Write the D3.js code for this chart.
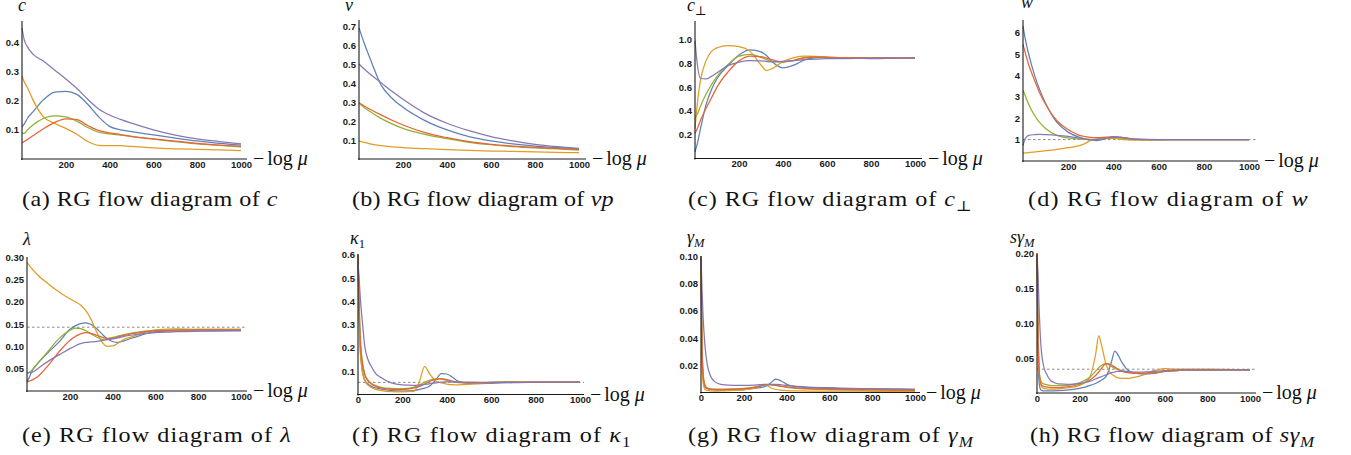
<!DOCTYPE html>
<html>
<head>
<meta charset="utf-8">
<script src="https://cdn.jsdelivr.net/npm/d3@7"></script>
<style>
  html, body { margin: 0; padding: 0; background: #fff; }
  svg { display: block; }
</style>
</head>
<body>
<svg id="fig" width="1351" height="455"></svg>
<script>
// Run colours: blue, orange, green, red, purple
const runColors = ["#5e81b5", "#e19c24", "#8fb032", "#eb6235", "#8778b3"];

const xTicksPlain = [200, 400, 600, 800, 1000];
const xTicksZero = [0, 200, 400, 600, 800, 1000];

// (a) c
const muC = [0, 10, 25, 50, 100, 150, 200, 250, 300, 350, 400, 450, 500, 600, 700, 800, 900, 1000];
const cRuns = [
  [0.110, 0.120, 0.140, 0.162, 0.205, 0.230, 0.232, 0.222, 0.188, 0.145, 0.112, 0.100, 0.094, 0.083, 0.072, 0.062, 0.054, 0.048],
  [0.285, 0.265, 0.245, 0.203, 0.143, 0.122, 0.105, 0.085, 0.060, 0.047, 0.046, 0.046, 0.043, 0.038, 0.035, 0.033, 0.031, 0.029],
  [0.090, 0.088, 0.100, 0.117, 0.140, 0.148, 0.145, 0.130, 0.108, 0.092, 0.086, 0.082, 0.077, 0.068, 0.060, 0.052, 0.047, 0.042],
  [0.055, 0.060, 0.067, 0.080, 0.105, 0.126, 0.138, 0.135, 0.115, 0.098, 0.090, 0.084, 0.078, 0.069, 0.061, 0.054, 0.048, 0.043],
  [0.450, 0.410, 0.385, 0.360, 0.335, 0.305, 0.275, 0.243, 0.205, 0.172, 0.151, 0.136, 0.123, 0.100, 0.082, 0.069, 0.060, 0.052]
];
const cTicks = [0.1, 0.2, 0.3, 0.4];

// (b) v
const muV = [0, 25, 50, 100, 150, 200, 300, 400, 500, 600, 700, 800, 900, 1000];
const vRuns = [
  [0.690, 0.605, 0.530, 0.390, 0.320, 0.272, 0.202, 0.153, 0.118, 0.095, 0.079, 0.068, 0.060, 0.053],
  [0.095, 0.087, 0.080, 0.070, 0.064, 0.060, 0.054, 0.049, 0.045, 0.042, 0.040, 0.037, 0.035, 0.033],
  [0.293, 0.270, 0.250, 0.214, 0.185, 0.161, 0.130, 0.107, 0.088, 0.075, 0.065, 0.058, 0.053, 0.047],
  [0.296, 0.278, 0.262, 0.232, 0.204, 0.179, 0.139, 0.112, 0.091, 0.077, 0.068, 0.061, 0.056, 0.051],
  [0.500, 0.472, 0.447, 0.402, 0.356, 0.314, 0.240, 0.188, 0.149, 0.118, 0.095, 0.077, 0.065, 0.056]
];
const vTicks = [0.1, 0.2, 0.3, 0.4, 0.5, 0.6, 0.7];

// (c) c_perp
const muCp = [0, 10, 25, 50, 75, 100, 150, 200, 250, 300, 325, 350, 400, 450, 500, 550, 600, 700, 800, 900, 1000];
const cpRuns = [
  [0.056, 0.120, 0.250, 0.450, 0.580, 0.670, 0.780, 0.870, 0.912, 0.895, 0.865, 0.815, 0.762, 0.785, 0.830, 0.848, 0.850, 0.845, 0.840, 0.842, 0.845],
  [0.250, 0.450, 0.660, 0.820, 0.900, 0.930, 0.948, 0.940, 0.900, 0.785, 0.740, 0.755, 0.815, 0.848, 0.860, 0.857, 0.850, 0.840, 0.848, 0.846, 0.845],
  [0.336, 0.370, 0.440, 0.540, 0.620, 0.690, 0.790, 0.860, 0.875, 0.850, 0.830, 0.815, 0.810, 0.825, 0.850, 0.855, 0.852, 0.845, 0.845, 0.845, 0.845],
  [0.210, 0.250, 0.320, 0.420, 0.510, 0.600, 0.727, 0.820, 0.860, 0.855, 0.843, 0.830, 0.812, 0.825, 0.845, 0.852, 0.850, 0.845, 0.845, 0.845, 0.845],
  [0.990, 0.800, 0.672, 0.668, 0.690, 0.720, 0.780, 0.810, 0.822, 0.820, 0.815, 0.812, 0.815, 0.822, 0.830, 0.835, 0.838, 0.840, 0.842, 0.843, 0.845]
];
const cpTicks = [0.2, 0.4, 0.6, 0.8, 1.0];

// (d) w
const muW = [0, 10, 25, 50, 75, 100, 150, 200, 250, 275, 300, 325, 350, 400, 450, 500, 600, 700, 800, 1000];
const wRuns = [
  [6.30, 5.70, 5.00, 4.05, 3.30, 2.70, 1.80, 1.35, 1.10, 1.03, 0.97, 0.95, 1.00, 1.14, 1.08, 1.01, 0.99, 1.00, 1.00, 1.00],
  [0.37, 0.38, 0.39, 0.42, 0.45, 0.48, 0.54, 0.62, 0.72, 0.82, 0.96, 1.02, 1.05, 1.06, 1.00, 0.97, 0.99, 1.00, 1.00, 1.00],
  [3.30, 3.05, 2.65, 2.15, 1.78, 1.52, 1.20, 1.08, 1.02, 1.01, 1.01, 1.02, 1.05, 1.10, 1.05, 1.00, 1.00, 1.00, 1.00, 1.00],
  [5.45, 5.05, 4.50, 3.80, 3.15, 2.65, 1.88, 1.47, 1.20, 1.14, 1.10, 1.09, 1.10, 1.13, 1.08, 1.02, 1.00, 1.00, 1.00, 1.00],
  [0.72, 1.05, 1.20, 1.23, 1.24, 1.23, 1.20, 1.15, 1.07, 1.03, 1.00, 1.00, 1.02, 1.12, 1.08, 1.01, 1.00, 1.00, 1.00, 1.00]
];
const wTicks = [1, 2, 3, 4, 5, 6];
const wFixed = 1;

// (e) lambda
const muL = [0, 10, 25, 50, 100, 150, 200, 225, 250, 275, 300, 325, 350, 375, 400, 425, 450, 500, 600, 700, 800, 1000];
const lRuns = [
  [0.020, 0.030, 0.046, 0.062, 0.087, 0.110, 0.138, 0.146, 0.151, 0.153, 0.149, 0.140, 0.128, 0.117, 0.111, 0.109, 0.112, 0.120, 0.133, 0.135, 0.135, 0.136],
  [0.288, 0.282, 0.273, 0.260, 0.240, 0.222, 0.207, 0.200, 0.193, 0.180, 0.160, 0.133, 0.110, 0.100, 0.101, 0.107, 0.115, 0.123, 0.137, 0.139, 0.138, 0.138],
  [0.040, 0.042, 0.048, 0.062, 0.090, 0.118, 0.136, 0.141, 0.140, 0.135, 0.128, 0.121, 0.116, 0.117, 0.120, 0.123, 0.126, 0.131, 0.136, 0.137, 0.138, 0.138],
  [0.020, 0.022, 0.025, 0.032, 0.058, 0.088, 0.113, 0.122, 0.128, 0.131, 0.129, 0.125, 0.121, 0.118, 0.118, 0.121, 0.124, 0.129, 0.135, 0.136, 0.137, 0.137],
  [0.040, 0.041, 0.042, 0.050, 0.067, 0.081, 0.095, 0.101, 0.106, 0.109, 0.110, 0.111, 0.113, 0.115, 0.117, 0.119, 0.122, 0.126, 0.131, 0.133, 0.134, 0.135]
];
const lTicks = [0.05, 0.10, 0.15, 0.20, 0.25, 0.30];
const lFixed = 0.143;

// (f) kappa_1
const muK = [0, 5, 10, 15, 20, 30, 45, 60, 80, 100, 150, 200, 250, 275, 300, 325, 350, 375, 400, 425, 450, 500, 550, 600, 700, 800, 1000];
const kRuns = [
  [0.60, 0.35, 0.20, 0.14, 0.100, 0.065, 0.045, 0.035, 0.028, 0.024, 0.017, 0.015, 0.017, 0.021, 0.027, 0.038, 0.062, 0.090, 0.088, 0.074, 0.058, 0.048, 0.047, 0.048, 0.051, 0.052, 0.053],
  [0.60, 0.33, 0.19, 0.13, 0.095, 0.060, 0.040, 0.030, 0.022, 0.018, 0.012, 0.011, 0.013, 0.050, 0.120, 0.085, 0.058, 0.050, 0.045, 0.042, 0.041, 0.043, 0.048, 0.053, 0.055, 0.053, 0.053],
  [0.60, 0.40, 0.25, 0.18, 0.140, 0.090, 0.062, 0.048, 0.038, 0.032, 0.026, 0.025, 0.031, 0.040, 0.053, 0.062, 0.067, 0.066, 0.060, 0.055, 0.051, 0.049, 0.050, 0.051, 0.053, 0.053, 0.053],
  [0.60, 0.38, 0.24, 0.17, 0.130, 0.085, 0.058, 0.045, 0.035, 0.029, 0.022, 0.021, 0.027, 0.034, 0.045, 0.057, 0.065, 0.068, 0.064, 0.058, 0.053, 0.050, 0.050, 0.051, 0.053, 0.053, 0.053],
  [0.57, 0.50, 0.42, 0.36, 0.310, 0.210, 0.150, 0.120, 0.090, 0.075, 0.050, 0.041, 0.039, 0.040, 0.043, 0.047, 0.050, 0.053, 0.054, 0.054, 0.054, 0.053, 0.052, 0.052, 0.052, 0.053, 0.053]
];
const kTicks = [0.1, 0.2, 0.3, 0.4, 0.5, 0.6];
const kFixed = 0.052;

// (g) gamma_M
const muG = [0, 5, 10, 15, 20, 30, 45, 60, 80, 100, 150, 200, 250, 275, 300, 325, 350, 375, 400, 450, 500, 600, 700, 800, 1000];
const gRuns = [
  [0.100, 0.030, 0.012, 0.0060, 0.0040, 0.0028, 0.0022, 0.0020, 0.0018, 0.0018, 0.0019, 0.0022, 0.0030, 0.0036, 0.0045, 0.0070, 0.0098, 0.0085, 0.0060, 0.0042, 0.0036, 0.0030, 0.0027, 0.0025, 0.0022],
  [0.100, 0.020, 0.007, 0.0035, 0.0022, 0.0015, 0.0012, 0.0011, 0.0011, 0.0012, 0.0015, 0.0020, 0.0032, 0.0045, 0.0055, 0.0035, 0.0022, 0.0017, 0.0014, 0.0012, 0.0011, 0.0010, 0.0010, 0.0009, 0.0008],
  [0.100, 0.035, 0.014, 0.0075, 0.0050, 0.0033, 0.0027, 0.0025, 0.0024, 0.0024, 0.0026, 0.0030, 0.0040, 0.0048, 0.0056, 0.0056, 0.0052, 0.0045, 0.0038, 0.0030, 0.0026, 0.0022, 0.0020, 0.0019, 0.0017],
  [0.100, 0.032, 0.013, 0.0070, 0.0045, 0.0030, 0.0025, 0.0023, 0.0022, 0.0022, 0.0024, 0.0028, 0.0038, 0.0047, 0.0058, 0.0058, 0.0053, 0.0047, 0.0041, 0.0033, 0.0028, 0.0024, 0.0021, 0.0019, 0.0016],
  [0.100, 0.075, 0.055, 0.0420, 0.0320, 0.0200, 0.0120, 0.0085, 0.0066, 0.0058, 0.0052, 0.0052, 0.0055, 0.0058, 0.0060, 0.0060, 0.0060, 0.0057, 0.0052, 0.0045, 0.0040, 0.0035, 0.0030, 0.0028, 0.0025]
];
const gTicks = [0.02, 0.04, 0.06, 0.08, 0.10];

// (h) s*gamma_M
const muS = [0, 5, 10, 15, 20, 30, 45, 60, 80, 100, 150, 200, 225, 250, 275, 290, 300, 325, 350, 365, 375, 400, 425, 450, 500, 550, 600, 650, 700, 800, 1000];
const sRuns = [
  [0.200, 0.060, 0.015, 0.0060, 0.0040, 0.0032, 0.0030, 0.0030, 0.0031, 0.0033, 0.0045, 0.0067, 0.0085, 0.0110, 0.0135, 0.0160, 0.0180, 0.0240, 0.0450, 0.0600, 0.0570, 0.0430, 0.0330, 0.0290, 0.0270, 0.0280, 0.0310, 0.0320, 0.0330, 0.0330, 0.0330],
  [0.200, 0.090, 0.035, 0.0160, 0.0100, 0.0067, 0.0060, 0.0057, 0.0057, 0.0060, 0.0075, 0.0110, 0.0150, 0.0240, 0.0550, 0.0820, 0.0720, 0.0400, 0.0270, 0.0240, 0.0220, 0.0210, 0.0210, 0.0220, 0.0260, 0.0320, 0.0350, 0.0340, 0.0340, 0.0340, 0.0330],
  [0.200, 0.085, 0.035, 0.0200, 0.0160, 0.0130, 0.0120, 0.0110, 0.0105, 0.0105, 0.0114, 0.0145, 0.0180, 0.0230, 0.0310, 0.0360, 0.0390, 0.0420, 0.0380, 0.0350, 0.0340, 0.0320, 0.0300, 0.0290, 0.0280, 0.0290, 0.0310, 0.0320, 0.0330, 0.0330, 0.0330],
  [0.200, 0.080, 0.030, 0.0160, 0.0120, 0.0095, 0.0088, 0.0080, 0.0076, 0.0078, 0.0090, 0.0125, 0.0150, 0.0190, 0.0250, 0.0300, 0.0340, 0.0420, 0.0400, 0.0370, 0.0350, 0.0310, 0.0290, 0.0280, 0.0280, 0.0290, 0.0310, 0.0320, 0.0330, 0.0330, 0.0330],
  [0.195, 0.170, 0.120, 0.0850, 0.0620, 0.0400, 0.0270, 0.0190, 0.0150, 0.0130, 0.0125, 0.0138, 0.0150, 0.0170, 0.0200, 0.0220, 0.0230, 0.0260, 0.0290, 0.0300, 0.0310, 0.0310, 0.0310, 0.0300, 0.0300, 0.0310, 0.0320, 0.0330, 0.0330, 0.0330, 0.0330]
];
const sTicks = [0.05, 0.10, 0.15, 0.20];
const sFixed = 0.034;

// Panel layout (pixel frames) and labels
const panels = [
  { mu: muC, runs: cRuns, yTicks: cTicks, fmt: ".1f", xTicks: xTicksPlain, ref: null,
    x0: 22, x1: 241, xEnd: 247, y0: 159, yTop: 21, yMax: 0.474,
    varParts: [{ t: "c", i: 1 }], varX: 18, varY: 11,
    capParts: [{ t: "(a) RG flow diagram of " }, { t: "c", i: 1 }], capX: 22, capW: 256, capY: 206 },
  { mu: muV, runs: vRuns, yTicks: vTicks, fmt: ".1f", xTicks: xTicksPlain, ref: null,
    x0: 359, x1: 579, xEnd: 586, y0: 159, yTop: 20, yMax: 0.7316,
    varParts: [{ t: "v", i: 1 }], varX: 345, varY: 11,
    capParts: [{ t: "(b) RG flow diagram of " }, { t: "vp", i: 1 }], capX: 352, capW: 262, capY: 206 },
  { mu: muCp, runs: cpRuns, yTicks: cpTicks, fmt: ".1f", xTicks: xTicksPlain, ref: null,
    x0: 695, x1: 915, xEnd: 922, y0: 158.5, yTop: 21, yMax: 1.155,
    varParts: [{ t: "c", i: 1 }, { t: "⊥", sub: 1 }], varX: 687, varY: 11,
    capParts: [{ t: "(c) RG flow diagram of " }, { t: "c", i: 1 }, { t: "⊥", sub: 1 }], capX: 688, capW: 285, capY: 206 },
  { mu: muW, runs: wRuns, yTicks: wTicks, fmt: "d", xTicks: xTicksPlain, ref: wFixed,
    x0: 1023, x1: 1249, xEnd: 1258, y0: 161, yTop: 20, yMax: 6.59,
    varParts: [{ t: "w", i: 1 }], varX: 1021, varY: 8,
    capParts: [{ t: "(d) RG flow diagram of " }, { t: "w", i: 1 }], capX: 1028, capW: 281, capY: 206 },
  { mu: muL, runs: lRuns, yTicks: lTicks, fmt: ".2f", xTicks: xTicksPlain, ref: lFixed,
    x0: 27, x1: 241, xEnd: 247, y0: 391, yTop: 257, yMax: 0.3004,
    varParts: [{ t: "λ", i: 1 }], varX: 23, varY: 245,
    capParts: [{ t: "(e) RG flow diagram of " }, { t: "λ", i: 1 }], capX: 22, capW: 270, capY: 442 },
  { mu: muK, runs: kRuns, yTicks: kTicks, fmt: ".1f", xTicks: xTicksZero, ref: kFixed,
    x0: 358, x1: 580, xEnd: 584, y0: 394.5, yTop: 254, yMax: 0.603,
    varParts: [{ t: "κ", i: 1 }, { t: "1", sub: 1 }], varX: 350, varY: 244,
    capParts: [{ t: "(f) RG flow diagram of " }, { t: "κ", i: 1 }, { t: "1", sub: 1 }], capX: 352, capW: 280, capY: 442 },
  { mu: muG, runs: gRuns, yTicks: gTicks, fmt: ".2f", xTicks: xTicksZero, ref: null,
    x0: 701, x1: 915, xEnd: 920, y0: 392.5, yTop: 256, yMax: 0.1004,
    varParts: [{ t: "γ", i: 1 }, { t: "M", i: 1, sub: 1 }], varX: 687, varY: 243,
    capParts: [{ t: "(g) RG flow diagram of " }, { t: "γ", i: 1 }, { t: "M", i: 1, sub: 1 }], capX: 688, capW: 286, capY: 442 },
  { mu: muS, runs: sRuns, yTicks: sTicks, fmt: ".2f", xTicks: xTicksZero, ref: sFixed,
    x0: 1037, x1: 1250, xEnd: 1256, y0: 393, yTop: 254, yMax: 0.1986,
    varParts: [{ t: "sγ", i: 1 }, { t: "M", i: 1, sub: 1 }], varX: 1010, varY: 243,
    capParts: [{ t: "(h) RG flow diagram of " }, { t: "sγ", i: 1 }, { t: "M", i: 1, sub: 1 }], capX: 1030, capW: 285, capY: 442 }
];

const serif = "'Liberation Serif', 'DejaVu Serif', serif";
const svg = d3.select("#fig");

function mathText(sel, parts, size) {
  parts.forEach(pt => {
    const ts = sel.append("tspan").text(pt.t);
    if (pt.i) ts.attr("font-style", "italic");
    if (pt.sub) ts.attr("font-size", size * 0.7).attr("dy", size * 0.22);
  });
  return sel;
}

panels.forEach(p => {
  const g = svg.append("g");
  const x = d3.scaleLinear().domain([0, 1000]).range([p.x0, p.x1]);
  const y = d3.scaleLinear().domain([0, p.yMax]).range([p.y0, p.yTop]);

  // fixed-point reference
  if (p.ref !== null) {
    g.append("line")
      .attr("x1", p.x0).attr("x2", p.xEnd)
      .attr("y1", y(p.ref)).attr("y2", y(p.ref))
      .attr("stroke", "#8a8a8a").attr("stroke-width", 1)
      .attr("stroke-dasharray", "2.5,2.5");
  }

  // flow curves
  const line = d3.line()
    .x((d, i) => x(p.mu[i]))
    .y(d => y(d))
    .curve(d3.curveMonotoneX);
  p.runs.forEach((run, k) => {
    g.append("path")
      .attr("d", line(run))
      .attr("fill", "none")
      .attr("stroke", runColors[k])
      .attr("stroke-width", 1.25)
      .attr("stroke-linejoin", "round");
  });

  // axes
  const xAxis = g.append("g").attr("transform", `translate(0,${p.y0})`)
    .call(d3.axisBottom(x).tickValues(p.xTicks).tickSize(0).tickPadding(2).tickFormat(d3.format("d")));
  const yAxis = g.append("g").attr("transform", `translate(${p.x0},0)`)
    .call(d3.axisLeft(y).tickValues(p.yTicks).tickSize(0).tickPadding(3).tickFormat(d3.format(p.fmt)));
  [xAxis, yAxis].forEach(a => {
    a.select(".domain").remove();
    a.selectAll("text")
      .attr("font-family", "'Liberation Sans', Arial, sans-serif")
      .attr("font-weight", "bold")
      .attr("font-size", 9.5)
      .attr("fill", "#1a1a1a");
  });
  g.append("line").attr("x1", p.x0 - 1).attr("x2", p.xEnd)
    .attr("y1", p.y0).attr("y2", p.y0)
    .attr("stroke", "#1a1a1a").attr("stroke-width", 1.1);
  g.append("line").attr("x1", p.x0).attr("x2", p.x0)
    .attr("y1", p.y0 + 1).attr("y2", p.yTop)
    .attr("stroke", "#1a1a1a").attr("stroke-width", 1.1);

  // variable name above the vertical axis
  mathText(g.append("text").attr("font-family", serif).attr("fill", "#111")
    .attr("x", p.varX).attr("y", p.varY).attr("font-size", 18), p.varParts, 18);

  // horizontal axis label: −log μ
  const xl = g.append("text").attr("font-family", serif).attr("fill", "#111")
    .attr("x", p.xEnd + 6).attr("y", p.y0 + 6).attr("font-size", 20);
  xl.append("tspan").text("−");
  xl.append("tspan").attr("dx", 3).text("log ");
  xl.append("tspan").attr("font-style", "italic").text("μ");

  // caption, widened to its column width
  const cap = mathText(g.append("text").attr("font-family", serif).attr("fill", "#111")
    .attr("font-size", 21), p.capParts, 21);
  const node = cap.node();
  const w = node.getComputedTextLength();
  const n = node.textContent.length;
  const s = Math.min(1.15, p.capW / w);
  const ls = Math.max(0, (p.capW / s - w) / n);
  cap.style("letter-spacing", ls.toFixed(2) + "px")
     .attr("transform", `translate(${p.capX},${p.capY}) scale(${s.toFixed(3)},1)`);
});
</script>
</body>
</html>
